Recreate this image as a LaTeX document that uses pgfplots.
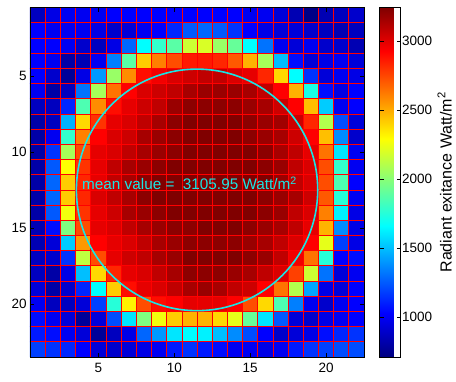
\documentclass[border=0pt]{standalone}
\usepackage{fontspec}
\setmainfont{Liberation Sans}
\usepackage{pgfplots}
\pgfplotsset{compat=1.18}
\pgfplotsset{colormap={matjet}{rgb255(0cm)=(0,0,128) rgb255(1cm)=(0,0,255) rgb255(3cm)=(0,255,255) rgb255(5cm)=(255,255,0) rgb255(7cm)=(255,0,0) rgb255(8cm)=(128,0,0)}}
\definecolor{mcyan}{rgb}{0.1,0.9,0.9}
\begin{document}
\begin{tikzpicture}
\begin{axis}[
  set layers,
  at={(30.1pt,25pt)}, anchor=south west,
  width=333.9pt, height=349.4pt, scale only axis,
  xmin=0.5, xmax=22.5, ymin=0.5, ymax=23.5,
  y dir=reverse,
  colormap name=matjet,
  point meta min=713, point meta max=3241,
  xtick={5,10,15,20}, ytick={5,10,15,20},
  minor xtick={1.5,2.5,...,21.5}, minor ytick={1.5,2.5,...,22.5},
  minor tick length=0pt, major tick length=4pt,
  xminorgrids=true, yminorgrids=true,
  minor grid style={red, line width=0.7pt},
  tick style={black, line width=0.5pt},
  tick label style={font=\fontsize{13.5}{16}\selectfont},
  /pgf/number format/assume math mode=true,
  axis line style={black, line width=0.5pt},
  xticklabel style={yshift=-3pt},
  colorbar,
  colorbar style={
    at={(parent axis.north east)}, anchor=north west, xshift=7pt,
    width=21pt, height=349.4pt, scale only axis,
    ytick={1000,1500,2000,2500,3000},
    yticklabels={1000,1500,2000,2500,3000},
    yticklabel style={font=\fontsize{13.5}{16}\selectfont, xshift=-2pt},
    major tick length=4pt,
    ylabel={Radiant exitance Watt/m\textsuperscript{2}},
    ylabel style={at={(axis description cs:3.1,0.5)}, anchor=center, font=\fontsize{16}{19}\selectfont},
  },
]
\addplot[matrix plot*, mesh/cols=22, point meta=explicit, on layer=axis background] coordinates {
(1,1)[871] (2,1)[966] (3,1)[997] (4,1)[997] (5,1)[997] (6,1)[1029] (7,1)[1029] (8,1)[1029] (9,1)[1029] (10,1)[1029] (11,1)[1029] (12,1)[1029] (13,1)[1029] (14,1)[1029] (15,1)[997] (16,1)[997] (17,1)[934] (18,1)[839] (19,1)[730] (20,1)[839] (21,1)[871] (22,1)[903]
(1,2)[1029] (2,2)[997] (3,2)[997] (4,2)[997] (5,2)[966] (6,2)[903] (7,2)[934] (8,2)[997] (9,2)[1029] (10,2)[1124] (11,2)[1250] (12,2)[1282] (13,2)[1250] (14,2)[1155] (15,2)[1029] (16,2)[966] (17,2)[934] (18,2)[934] (19,2)[903] (20,2)[871] (21,2)[839] (22,2)[871]
(1,3)[1029] (2,3)[1029] (3,3)[997] (4,3)[903] (5,3)[871] (6,3)[966] (7,3)[1282] (8,3)[1661] (9,3)[1787] (10,3)[1882] (11,3)[2167] (12,3)[2198] (13,3)[2040] (14,3)[1914] (15,3)[1661] (16,3)[1313] (17,3)[997] (18,3)[934] (19,3)[997] (20,3)[903] (21,3)[903] (22,3)[839]
(1,4)[1029] (2,4)[997] (3,4)[808] (4,4)[839] (5,4)[997] (6,4)[1345] (7,4)[1882] (8,4)[2419] (9,4)[2609] (10,4)[2735] (11,4)[2862] (12,4)[2862] (13,4)[2830] (14,4)[2704] (15,4)[2482] (16,4)[2072] (17,4)[1503] (18,4)[1061] (19,4)[934] (20,4)[966] (21,4)[997] (22,4)[934]
(1,5)[1029] (2,5)[903] (3,5)[776] (4,5)[966] (5,5)[1408] (6,5)[2040] (7,5)[2577] (8,5)[2893] (9,5)[2957] (10,5)[3020] (11,5)[3052] (12,5)[3083] (13,5)[3083] (14,5)[3020] (15,5)[2988] (16,5)[2830] (17,5)[2388] (18,5)[1661] (19,5)[1155] (20,5)[934] (21,5)[997] (22,5)[966]
(1,6)[997] (2,6)[808] (3,6)[871] (4,6)[1313] (5,6)[2072] (6,6)[2641] (7,6)[2925] (8,6)[3020] (9,6)[3052] (10,6)[3083] (11,6)[3146] (12,6)[3178] (13,6)[3178] (14,6)[3178] (15,6)[3146] (16,6)[3083] (17,6)[2925] (18,6)[2482] (19,6)[1724] (20,6)[1061] (21,6)[966] (22,6)[1029]
(1,7)[871] (2,7)[871] (3,7)[1124] (4,7)[1851] (5,7)[2577] (6,7)[2893] (7,7)[2988] (8,7)[3052] (9,7)[3083] (10,7)[3178] (11,7)[3210] (12,7)[3210] (13,7)[3210] (14,7)[3210] (15,7)[3178] (16,7)[3146] (17,7)[3052] (18,7)[2925] (19,7)[2451] (20,7)[1535] (21,7)[997] (22,7)[1029]
(1,8)[808] (2,8)[871] (3,8)[1471] (4,8)[2388] (5,8)[2798] (6,8)[2988] (7,8)[3020] (8,8)[3083] (9,8)[3146] (10,8)[3210] (11,8)[3241] (12,8)[3241] (13,8)[3241] (14,8)[3241] (15,8)[3210] (16,8)[3178] (17,8)[3160] (18,8)[3052] (19,8)[2830] (20,8)[2103] (21,8)[1219] (22,8)[934]
(1,9)[808] (2,9)[997] (3,9)[1787] (4,9)[2609] (5,9)[2925] (6,9)[3020] (7,9)[3052] (8,9)[3146] (9,9)[3178] (10,9)[3210] (11,9)[3241] (12,9)[3241] (13,9)[3241] (14,9)[3241] (15,9)[3210] (16,9)[3178] (17,9)[3146] (18,9)[3052] (19,9)[2925] (20,9)[2451] (21,9)[1377] (22,9)[903]
(1,10)[808] (2,10)[1155] (3,10)[2072] (4,10)[2735] (5,10)[2988] (6,10)[3020] (7,10)[3083] (8,10)[3146] (9,10)[3178] (10,10)[3210] (11,10)[3241] (12,10)[3241] (13,10)[3241] (14,10)[3241] (15,10)[3241] (16,10)[3210] (17,10)[3146] (18,10)[3083] (19,10)[2988] (20,10)[2641] (21,10)[1598] (22,10)[997]
(1,11)[808] (2,11)[1250] (3,11)[2293] (4,11)[2798] (5,11)[2988] (6,11)[3083] (7,11)[3146] (8,11)[3178] (9,11)[3210] (10,11)[3241] (11,11)[3241] (12,11)[3241] (13,11)[3241] (14,11)[3241] (15,11)[3241] (16,11)[3210] (17,11)[3178] (18,11)[3083] (19,11)[3020] (20,11)[2735] (21,11)[1787] (22,11)[997]
(1,12)[808] (2,12)[1282] (3,12)[2419] (4,12)[2830] (5,12)[2988] (6,12)[3083] (7,12)[3146] (8,12)[3210] (9,12)[3241] (10,12)[3241] (11,12)[3241] (12,12)[3241] (13,12)[3241] (14,12)[3241] (15,12)[3241] (16,12)[3241] (17,12)[3178] (18,12)[3083] (19,12)[3020] (20,12)[2735] (21,12)[1851] (22,12)[1029]
(1,13)[808] (2,13)[1282] (3,13)[2419] (4,13)[2830] (5,13)[3020] (6,13)[3083] (7,13)[3146] (8,13)[3210] (9,13)[3241] (10,13)[3241] (11,13)[3241] (12,13)[3241] (13,13)[3241] (14,13)[3241] (15,13)[3241] (16,13)[3210] (17,13)[3178] (18,13)[3146] (19,13)[3052] (20,13)[2704] (21,13)[1755] (22,13)[997]
(1,14)[808] (2,14)[1250] (3,14)[2261] (4,14)[2798] (5,14)[2988] (6,14)[3052] (7,14)[3146] (8,14)[3178] (9,14)[3210] (10,14)[3241] (11,14)[3241] (12,14)[3241] (13,14)[3241] (14,14)[3241] (15,14)[3241] (16,14)[3210] (17,14)[3178] (18,14)[3083] (19,14)[3020] (20,14)[2609] (21,14)[1630] (22,14)[966]
(1,15)[839] (2,15)[1061] (3,15)[1977] (4,15)[2735] (5,15)[2988] (6,15)[3020] (7,15)[3083] (8,15)[3146] (9,15)[3178] (10,15)[3210] (11,15)[3210] (12,15)[3241] (13,15)[3241] (14,15)[3241] (15,15)[3210] (16,15)[3178] (17,15)[3146] (18,15)[3083] (19,15)[2988] (20,15)[2482] (21,15)[1377] (22,15)[966]
(1,16)[839] (2,16)[934] (3,16)[1535] (4,16)[2546] (5,16)[2925] (6,16)[2988] (7,16)[3020] (8,16)[3083] (9,16)[3146] (10,16)[3178] (11,16)[3210] (12,16)[3210] (13,16)[3210] (14,16)[3210] (15,16)[3178] (16,16)[3146] (17,16)[3083] (18,16)[3020] (19,16)[2925] (20,16)[2230] (21,16)[1187] (22,16)[966]
(1,17)[871] (2,17)[903] (3,17)[1155] (4,17)[2135] (5,17)[2735] (6,17)[2988] (7,17)[3052] (8,17)[3083] (9,17)[3146] (10,17)[3178] (11,17)[3241] (12,17)[3241] (13,17)[3241] (14,17)[3241] (15,17)[3210] (16,17)[3178] (17,17)[3083] (18,17)[2957] (19,17)[2641] (20,17)[1755] (21,17)[1029] (22,17)[1061]
(1,18)[871] (2,18)[808] (3,18)[966] (4,18)[1503] (5,18)[2388] (6,18)[2830] (7,18)[2988] (8,18)[3020] (9,18)[3083] (10,18)[3146] (11,18)[3210] (12,18)[3210] (13,18)[3210] (14,18)[3178] (15,18)[3146] (16,18)[3083] (17,18)[3020] (18,18)[2767] (19,18)[2167] (20,18)[1313] (21,18)[934] (22,18)[997]
(1,19)[934] (2,19)[808] (3,19)[903] (4,19)[1124] (5,19)[1661] (6,19)[2419] (7,19)[2893] (8,19)[2988] (9,19)[3020] (10,19)[3083] (11,19)[3146] (12,19)[3178] (13,19)[3146] (14,19)[3083] (15,19)[3052] (16,19)[2925] (17,19)[2641] (18,19)[2103] (19,19)[1440] (20,19)[966] (21,19)[934] (22,19)[1029]
(1,20)[997] (2,20)[871] (3,20)[871] (4,20)[934] (5,20)[1187] (6,20)[1755] (7,20)[2325] (8,20)[2735] (9,20)[2893] (10,20)[2925] (11,20)[2988] (12,20)[2988] (13,20)[2988] (14,20)[2925] (15,20)[2735] (16,20)[2388] (17,20)[1851] (18,20)[1345] (19,20)[997] (20,20)[903] (21,20)[997] (22,20)[1029]
(1,21)[1061] (2,21)[997] (3,21)[934] (4,21)[776] (5,21)[934] (6,21)[1219] (7,21)[1598] (8,21)[1977] (9,21)[2261] (10,21)[2419] (11,21)[2482] (12,21)[2482] (13,21)[2388] (14,21)[2230] (15,21)[1914] (16,21)[1598] (17,21)[1250] (18,21)[934] (19,21)[903] (20,21)[966] (21,21)[997] (22,21)[1029]
(1,22)[1092] (2,22)[1061] (3,22)[997] (4,22)[934] (5,22)[776] (6,22)[871] (7,22)[966] (8,22)[1282] (9,22)[1408] (10,22)[1598] (11,22)[1661] (12,22)[1630] (13,22)[1503] (14,22)[1377] (15,22)[1219] (16,22)[1029] (17,22)[903] (18,22)[934] (19,22)[966] (20,22)[1061] (21,22)[1124] (22,22)[1155]
(1,23)[1187] (2,23)[1155] (3,23)[1124] (4,23)[1029] (5,23)[934] (6,23)[903] (7,23)[934] (8,23)[966] (9,23)[997] (10,23)[1092] (11,23)[1155] (12,23)[1092] (13,23)[1061] (14,23)[997] (15,23)[997] (16,23)[966] (17,23)[997] (18,23)[1092] (19,23)[1155] (20,23)[1187] (21,23)[1219] (22,23)[1219]
};
\draw[mcyan, line width=1.6pt] (axis cs:11.5,12.5) ellipse [x radius=7.95, y radius=7.95];
\node[anchor=base west, text=mcyan, inner sep=0pt, font=\fontsize{15.3}{18}\selectfont] at (axis cs:3.92,12.5) {mean value =\ \ 3105.95 Watt/m\textsuperscript{2}};
\end{axis}
\pgfresetboundingbox
\path[use as bounding box] (0,0) rectangle (456pt,382pt);
\end{tikzpicture}
\end{document}
